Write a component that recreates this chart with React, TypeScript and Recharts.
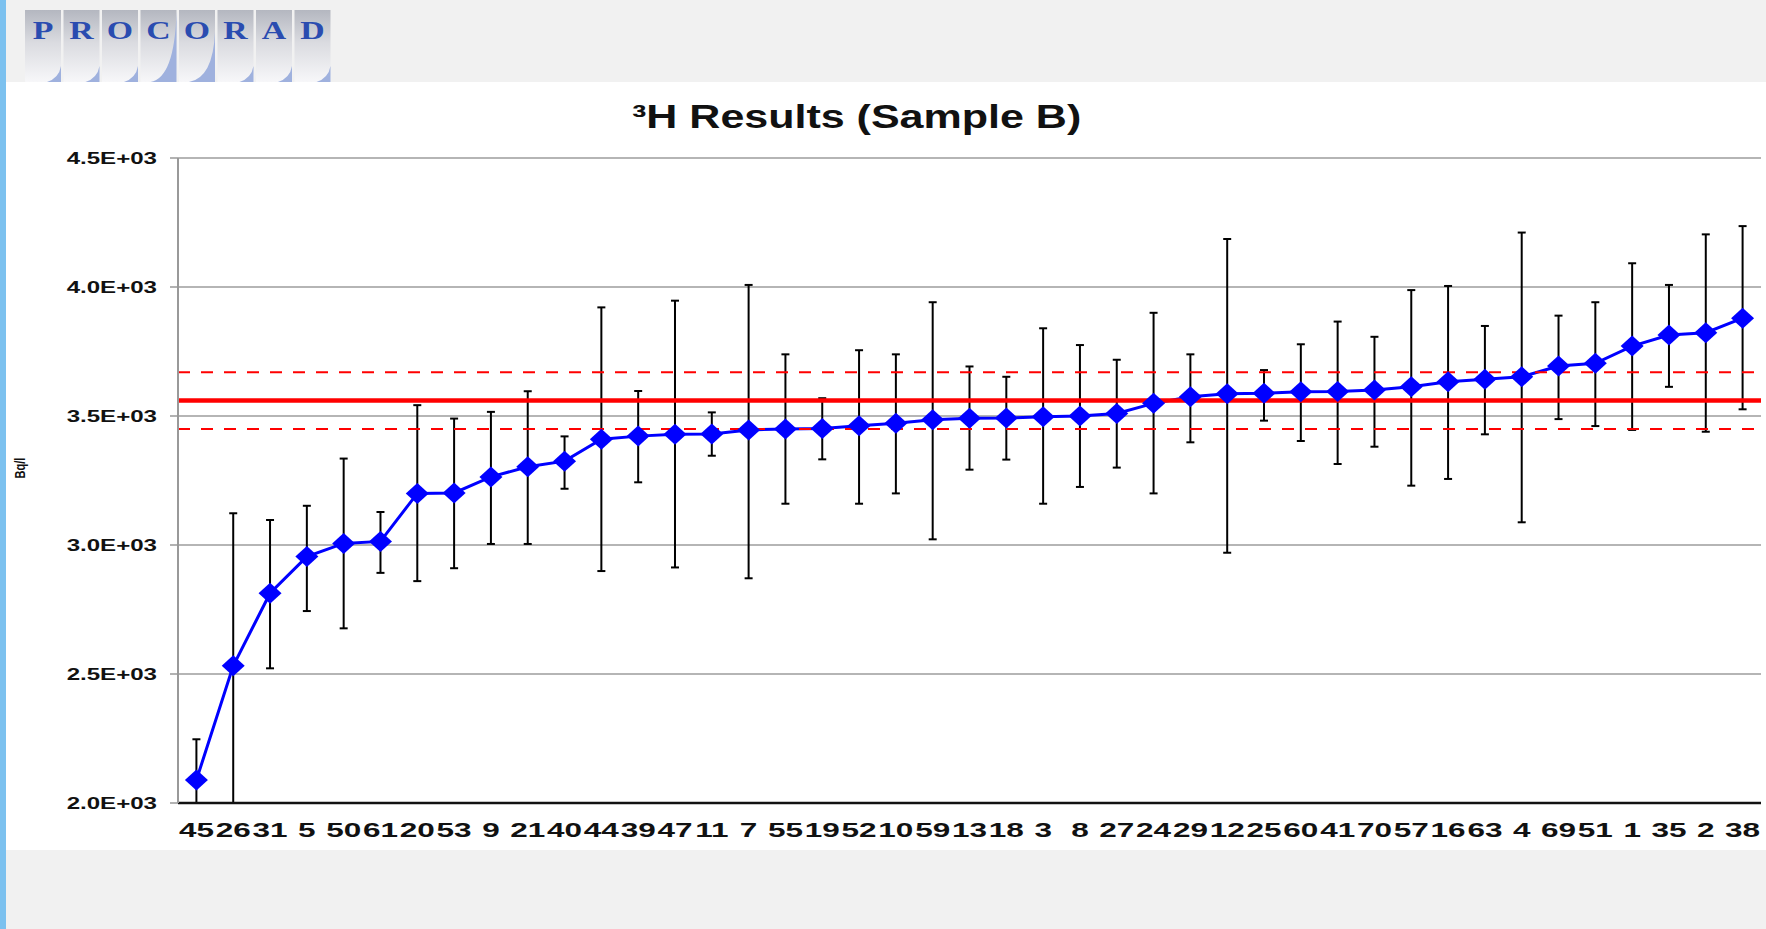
import {
  CartesianGrid, ErrorBar, Line, LineChart, ReferenceLine, XAxis, YAxis
} from 'recharts'

// lab codes, sorted by reported activity
const labs = [
  '45', '26', '31', '5', '50', '61', '20', '53', '9', '21', '40', '44', '39', '47', '11',
  '7', '55', '19', '52', '10', '59', '13', '18', '3', '8', '27', '24', '29', '12', '25',
  '60', '41', '70', '57', '16', '63', '4', '69', '51', '1', '35', '2', '38'
]

const results = [
  2089, 2532, 2813, 2955, 3006, 3014, 3200, 3202, 3264, 3303, 3325, 3410, 3422, 3429, 3430,
  3446, 3450, 3452, 3462, 3472, 3485, 3491, 3492, 3497, 3500, 3510, 3549, 3575, 3586, 3588,
  3594, 3595, 3601, 3613, 3633, 3642, 3652, 3694, 3704, 3771, 3814, 3823, 3879
]

const upper = [
  2247, 3123, 3097, 3152, 3335, 3128, 3542, 3490, 3516, 3596, 3421, 3921, 3597, 3947, 3514,
  4008, 3739, 3569, 3755, 3739, 3941, 3692, 3652, 3840, 3775, 3718, 3900, 3739, 4186, 3678,
  3778, 3866, 3807, 3988, 4004, 3849, 4211, 3889, 3941, 4092, 4008, 4204, 4236
]

const lower = [
  1930, 1940, 2522, 2744, 2677, 2892, 2860, 2910, 3004, 3004, 3218, 2899, 3243, 2913, 3346,
  2871, 3160, 3332, 3160, 3200, 3022, 3292, 3331, 3160, 3225, 3300, 3200, 3398, 2970, 3482,
  3403, 3314, 3381, 3230, 3256, 3429, 3088, 3488, 3461, 3446, 3613, 3439, 3526
]

const yTicks = [2000, 2500, 3000, 3500, 4000, 4500]
const refValue = 3560
const refLow = 3450
const refHigh = 3670

const Y_MIN = 2000
const Y_MAX = 4500
const FONT = '"Liberation Sans", Arial, sans-serif'
const logoLetters = ['P', 'R', 'O', 'C', 'O', 'R', 'A', 'D']

const CHART_W = 1760
const PLOT_W = CHART_W - 172 - 5
const HALF_BAND = PLOT_W / labs.length / 2

const fmtE = (v: number) => `${(v / 1000).toFixed(1)}E+03`

const data = labs.map((lab, i) => ({
  lab,
  value: results[i],
  err: [results[i] - Math.max(lower[i], Y_MIN), upper[i] - results[i]]
}))

function YTick(props: any) {
  const { x, y, payload } = props
  return (
    <text
      transform={`translate(${x},${y}) scale(1.46,1)`}
      textAnchor="end"
      dy="0.36em"
      fontFamily={FONT}
      fontWeight="bold"
      fontSize={16.5}
      fill="#111"
    >
      {fmtE(payload.value)}
    </text>
  )
}

function XTick(props: any) {
  const { x, y, payload } = props
  return (
    <text
      transform={`translate(${x},${y + 33.5}) scale(1.5,1)`}
      textAnchor="middle"
      fontFamily={FONT}
      fontWeight="bold"
      fontSize={21}
      fill="#111"
    >
      {payload.value}
    </text>
  )
}

function Diamond(props: any) {
  const { cx, cy, index } = props
  if (cx == null || cy == null) return <g key={`d${index}`} />
  return (
    <path
      key={`d${index}`}
      d={`M${cx},${cy - 10.5}L${cx + 11.5},${cy}L${cx},${cy + 10.5}L${cx - 11.5},${cy}Z`}
      fill="#0000ff"
    />
  )
}

function Logo() {
  const w = 36
  const h = 72
  return (
    <svg width={312} height={h} style={{ position: 'absolute', left: 24, top: 10 }}>
      <defs>
        <linearGradient id="tile" x1="0" y1="0" x2="0" y2="1">
          <stop offset="0%" stopColor="#b4b7c0" />
          <stop offset="45%" stopColor="#dadbe0" />
          <stop offset="100%" stopColor="#f7f7f9" />
        </linearGradient>
      </defs>
      {logoLetters.map((ch, i) => {
        const x = 1 + i * 38.5
        const tall = i === 3 ? 70 : i === 4 ? 50 : 16
        return (
          <g key={i}>
            <rect x={x} y={0} width={w} height={h} fill="url(#tile)" />
            <path
              d={`M${x + w},${h - tall} Q${x + w - 2},${h - 4} ${x + w - (tall > 20 ? 26 : 14)},${h} L${x + w},${h} Z`}
              fill="#9fb1de"
            />
            <text
              transform={`translate(${x + w / 2},${29}) scale(1.3,1)`}
              textAnchor="middle"
              fontFamily='"Liberation Serif", "Times New Roman", serif'
              fontWeight="bold"
              fontSize={26}
              fill="#2a4cb0"
            >
              {ch}
            </text>
          </g>
        )
      })}
    </svg>
  )
}

export default function App() {
  return (
    <div style={{ position: 'fixed', left: 0, top: 0, width: 1766, height: 929, background: '#f1f1f1', overflow: 'hidden' }}>
      <div style={{ position: 'absolute', left: 0, top: 0, width: 6, height: 929, background: '#7cc1ef' }} />
      <Logo />
      <div style={{ position: 'absolute', left: 6, top: 82, width: CHART_W, height: 768, background: '#ffffff' }}>
        <LineChart width={CHART_W} height={768} data={data} margin={{ top: 76, right: 5, left: 0, bottom: 0 }}>
          <CartesianGrid vertical={false} stroke="#9c9c9c" strokeWidth={1.5} />
          <XAxis
            dataKey="lab"
            height={47}
            interval={0}
            padding={{ left: HALF_BAND, right: HALF_BAND }}
            tickLine={false}
            tickSize={0}
            tickMargin={0}
            axisLine={{ stroke: '#111', strokeWidth: 2.5 }}
            tick={<XTick />}
          />
          <YAxis
            width={172}
            domain={[Y_MIN, Y_MAX]}
            ticks={yTicks}
            allowDataOverflow
            tickSize={8}
            tickMargin={13}
            axisLine={{ stroke: '#999', strokeWidth: 2 }}
            tickLine={{ stroke: '#999', strokeWidth: 1.5 }}
            tick={<YTick />}
          />
          <Line
            dataKey="value"
            stroke="#0000ff"
            strokeWidth={3}
            dot={Diamond}
            activeDot={false}
            isAnimationActive={false}
          >
            <ErrorBar dataKey="err" direction="y" stroke="#000" strokeWidth={2} width={4} />
          </Line>
          <ReferenceLine y={refHigh} stroke="#ff0000" strokeWidth={2} strokeDasharray="12 11" />
          <ReferenceLine y={refLow} stroke="#ff0000" strokeWidth={2} strokeDasharray="12 11" />
          <ReferenceLine y={refValue} stroke="#ff0000" strokeWidth={4.5} />
        </LineChart>
      </div>
      <div
        style={{
          position: 'absolute', left: 632, top: 100.7, fontFamily: FONT, fontWeight: 'bold',
          fontSize: 32.6, lineHeight: 1, color: '#111', whiteSpace: 'nowrap',
          transform: 'scaleX(1.32)', transformOrigin: 'left top'
        }}
      >
        ³H Results (Sample B)
      </div>
      <svg width={40} height={60} style={{ position: 'absolute', left: 0, top: 440 }}>
        <text
          transform="translate(25,28) scale(1.4,1) rotate(-90)"
          textAnchor="middle"
          fontFamily={FONT}
          fontWeight="bold"
          fontSize={11}
          fill="#111"
        >
          Bq/l
        </text>
      </svg>
    </div>
  )
}
